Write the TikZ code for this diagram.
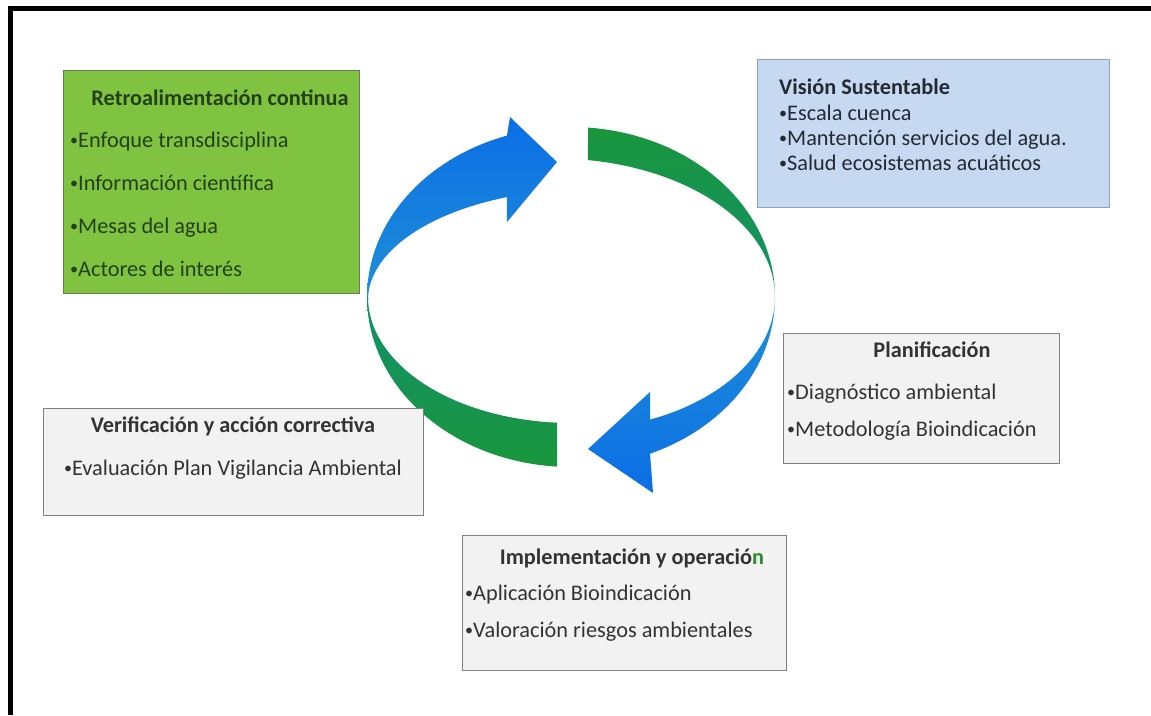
\documentclass[tikz,border=0pt]{standalone}
\usepackage{fontspec}
\usepackage{graphicx}
\setmainfont{Carlito}
% small raised bullet for list items
\newcommand{\itm}{\raisebox{0.1em}{\scalebox{0.72}{•}}}
\begin{document}
\begin{tikzpicture}[x=1pt,y=-1pt,
  box/.style={draw, line width=1.3pt, inner sep=0pt, anchor=north west},
  greybox/.style={box, fill=greyfill, draw=greyedge},
  txt/.style={inner sep=0pt, font=\fontsize{22.3}{26}\selectfont, text height=0.7em, text depth=0.2em},
  lft/.style={txt, anchor=west},
  ctr/.style={txt, anchor=center}]
\definecolor{greenfill}{HTML}{80C341}
\definecolor{greenedge}{HTML}{6A7A5C}
\definecolor{greentext}{HTML}{22401A}
\definecolor{bluefill}{HTML}{C6D9F0}
\definecolor{blueedge}{HTML}{8EA2BC}
\definecolor{bluetext}{HTML}{222A35}
\definecolor{greyfill}{HTML}{F2F2F2}
\definecolor{greyedge}{HTML}{808080}
\definecolor{greytext}{HTML}{333333}
\definecolor{arrowblue}{HTML}{0C6EE6}
\definecolor{arrowbluelight}{HTML}{1E90D6}
\definecolor{arrowgreen}{HTML}{19963C}
\definecolor{arrowgreenteal}{HTML}{13906A}
\definecolor{lastn}{HTML}{2E8B2E}

\useasboundingbox (0,0) rectangle (1151,715);
\fill[white] (0,0) rectangle (1151,715);

% frame: top and left rules
\draw[line width=5pt, line join=miter] (10.5,715) -- (10.5,8.5) -- (1151,8.5);

% cycle of arrows
% upper-left blue arrow
\shade[top color=arrowblue, bottom color=arrowbluelight]
  plot[domain=180:251.7, samples=40] ({571+204*cos(\x)},{297+170*sin(\x)})
  -- (510,117) -- (557,162) -- (507,222)
  -- plot[domain=248:180, samples=40] ({590+222*cos(\x)},{300+111*sin(\x)}) -- cycle;
% upper-right green band
\shade[top color=arrowgreen, bottom color=arrowgreenteal]
  plot[domain=274.8:360, samples=40] ({571+204*cos(\x)},{297+170*sin(\x)})
  -- plot[domain=360:278.6, samples=40] ({555+220*cos(\x)},{297+138.5*sin(\x)}) -- cycle;
% lower-right blue arrow
\shade[top color=arrowbluelight, bottom color=arrowblue]
  plot[domain=0:67.2, samples=40] ({571+204*cos(\x)},{297+170*sin(\x)})
  -- (653,493) -- (588,449) -- (650,392)
  -- plot[domain=67.2:0, samples=40] ({571+204*cos(\x)},{297+133*sin(\x)}) -- cycle;
% lower-left green band
\shade[top color=arrowgreenteal, bottom color=arrowgreen]
  plot[domain=180:93.9, samples=40] ({571+204*cos(\x)},{297+170*sin(\x)})
  -- plot[domain=93.96:180, samples=40] ({571+203*cos(\x)},{297+126*sin(\x)}) -- cycle;

% Retroalimentación continua
\node[box, fill=greenfill, draw=greenedge, minimum width=296pt, minimum height=223pt] (retro) at (63,70) {};
\begin{scope}[every node/.append style={text=greentext}]
\node[ctr] (retroT) at (220,103) {\bfseries Retroalimentación continua};
\node[lft] (retro1) at (70,145) {\itm Enfoque transdisciplina};
\node[lft] (retro2) at (70,188) {\itm Información científica};
\node[lft] (retro3) at (70,231) {\itm Mesas del agua};
\node[lft] (retro4) at (70,274) {\itm Actores de interés};
\end{scope}

% Visión Sustentable
\node[box, fill=bluefill, draw=blueedge, minimum width=352pt, minimum height=148pt] (vision) at (757,59) {};
\begin{scope}[every node/.append style={text=bluetext}]
\node[lft] (visionT) at (779,92) {\bfseries Visión Sustentable};
\node[lft] (vision1) at (779,118) {\itm Escala cuenca};
\node[lft] (vision2) at (779,143) {\itm Mantención servicios del agua.};
\node[lft] (vision3) at (779,168) {\itm Salud ecosistemas acuáticos};
\end{scope}

% Planificación
\node[greybox, minimum width=276pt, minimum height=130pt] (plan) at (783,333) {};
\begin{scope}[every node/.append style={text=greytext}]
\node[ctr] (planT) at (932,355) {\bfseries Planificación};
\node[lft] (plan1) at (787,397) {\itm Diagnóstico ambiental};
\node[lft] (plan2) at (787,434) {\itm Metodología Bioindicación};
\end{scope}

% Verificación y acción correctiva
\node[greybox, minimum width=380pt, minimum height=107pt] (verif) at (43,408) {};
\begin{scope}[every node/.append style={text=greytext}]
\node[ctr] (verifT) at (233,430) {\bfseries Verificación y acción correctiva};
\node[ctr] (verif1) at (233,473) {\itm Evaluación Plan Vigilancia Ambiental};
\end{scope}

% Implementación y operación
\node[greybox, minimum width=324pt, minimum height=135pt] (impl) at (462,535) {};
\begin{scope}[every node/.append style={text=greytext}]
\node[ctr] (implT) at (632,562) {\bfseries Implementación y operació\textcolor{lastn}{n}};
\node[lft] (impl1) at (465,598) {\itm Aplicación Bioindicación};
\node[lft] (impl2) at (465,635) {\itm Valoración riesgos ambientales};
\end{scope}
\end{tikzpicture}
\end{document}
